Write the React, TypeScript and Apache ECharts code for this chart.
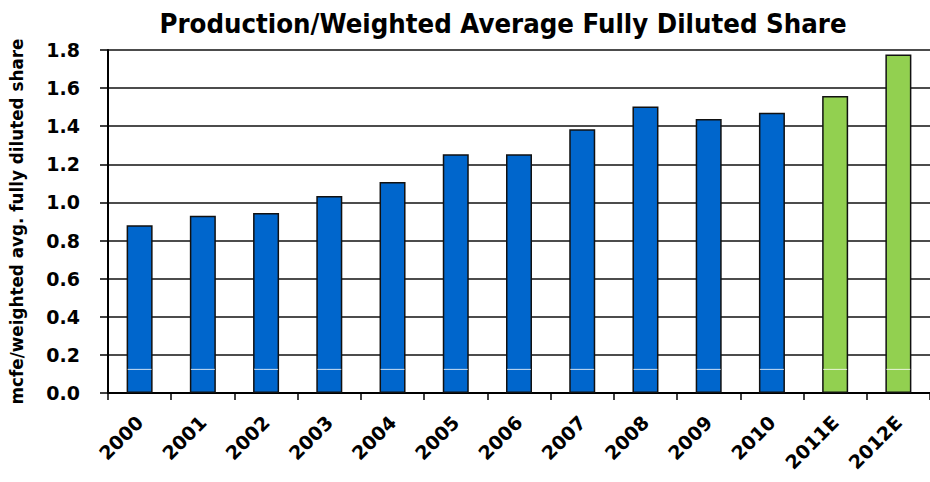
import React, { useEffect, useRef } from "react";
import * as echarts from "echarts";

// Years on the category axis
const categories = ["2000", "2001", "2002", "2003", "2004", "2005", "2006", "2007", "2008", "2009", "2010", "2011E", "2012E"];

// Production per weighted average fully diluted share (mcfe)
const productionPerShare = [0.88, 0.93, 0.945, 1.034, 1.107, 1.253, 1.253, 1.384, 1.504, 1.438, 1.471, 1.559, 1.777];

// Which years are estimates (drawn in green)
const isEstimate = [false, false, false, false, false, false, false, false, false, false, false, true, true];

// Thin white stripe drawn across each bar near its base
const stripeLevel = [0.124, 0.124, 0.124, 0.124, 0.124, 0.124, 0.124, 0.124, 0.124, 0.124, 0.124, 0.124, 0.124];

const yTicks = { min: 0, max: 1.8, interval: 0.2 };

const ACTUAL_COLOR = "#0066CC";
const ESTIMATE_COLOR = "#92D050";
const FONT = '"DejaVu Sans", "Liberation Sans", sans-serif';
const TITLE_FONT = '"Liberation Sans Narrow", "DejaVu Sans Condensed", "Liberation Sans", sans-serif';

export default function App() {
  const ref = useRef<HTMLDivElement>(null);

  useEffect(() => {
    if (!ref.current) return;
    const chart = echarts.init(ref.current, null, { renderer: "svg" });
    chart.setOption({
      animation: false,
      backgroundColor: "#ffffff",
      title: {
        text: "Production/Weighted Average Fully Diluted Share",
        left: 498,
        top: 5,
        textAlign: "center",
        textStyle: { fontFamily: TITLE_FONT, fontWeight: "bold", fontSize: 27.3, color: "#000" },
      },
      grid: { left: 105, right: 0, top: 50, bottom: 89, containLabel: false },
      xAxis: {
        type: "category",
        data: categories,
        boundaryGap: true,
        axisLine: { lineStyle: { color: "#000", width: 2 } },
        axisTick: { show: true, length: 7, lineStyle: { color: "#000", width: 1.5 } },
        axisLabel: {
          rotate: 45,
          margin: 26,
          fontFamily: FONT,
          fontWeight: "bold",
          fontSize: 19,
          color: "#000",
        },
      },
      yAxis: {
        type: "value",
        min: yTicks.min,
        max: yTicks.max,
        interval: yTicks.interval,
        name: "mcfe/weighted avg. fully diluted share",
        nameLocation: "middle",
        nameGap: 83,
        nameTextStyle: { fontFamily: FONT, fontWeight: "bold", fontSize: 16.8, color: "#000" },
        axisLine: { show: true, lineStyle: { color: "#000", width: 2 } },
        axisTick: { show: true, length: 8, lineStyle: { color: "#000", width: 1.5 } },
        axisLabel: {
          margin: 28,
          fontFamily: FONT,
          fontWeight: "bold",
          fontSize: 19,
          color: "#000",
          formatter: (v: number) => v.toFixed(1),
        },
        splitLine: { show: true, lineStyle: { color: "#111", width: 1.5 } },
      },
      series: [
        {
          type: "bar",
          barWidth: 26,
          z: 2,
          data: productionPerShare.map((v, i) => ({
            value: v,
            itemStyle: {
              color: isEstimate[i] ? ESTIMATE_COLOR : ACTUAL_COLOR,
              borderColor: "#111",
              borderWidth: 1.5,
            },
          })),
        },
        {
          type: "scatter",
          symbol: "rect",
          symbolSize: [24, 1],
          z: 3,
          silent: true,
          itemStyle: { color: "#ffffff" },
          data: stripeLevel,
        },
      ],
    });
    return () => chart.dispose();
  }, []);

  return <div ref={ref} style={{ width: 930, height: 482, position: "absolute", left: 0, top: 0 }} />;
}
